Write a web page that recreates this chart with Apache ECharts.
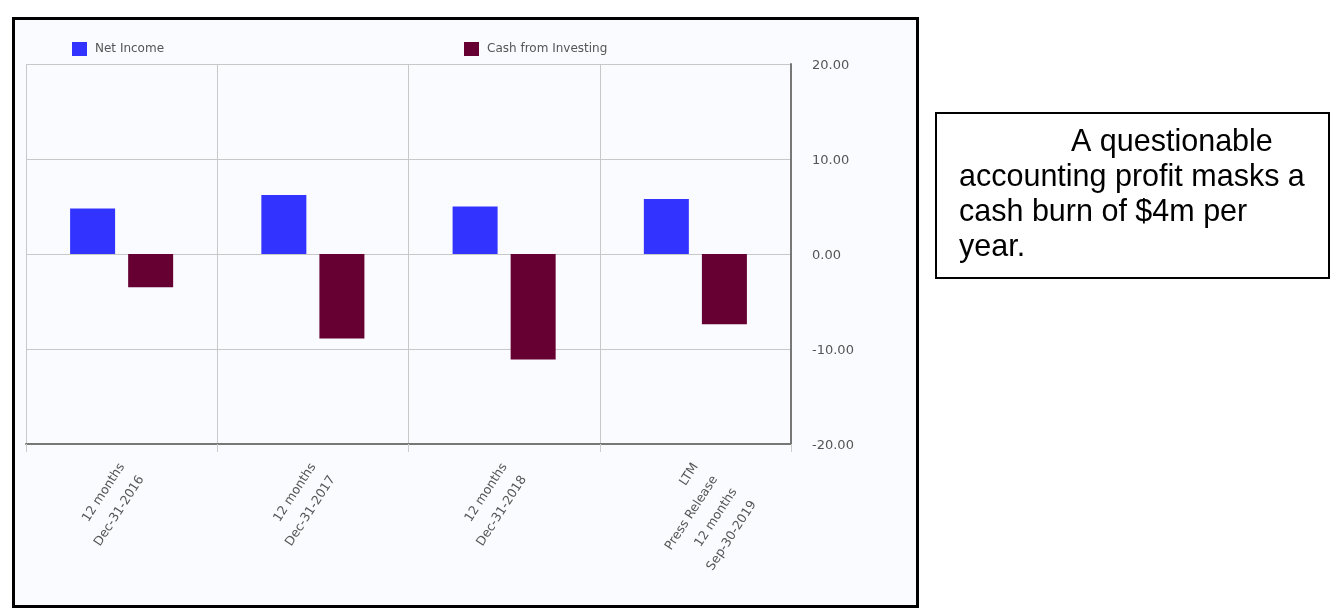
<!DOCTYPE html>
<html>
<head>
<meta charset="utf-8">
<script src="https://cdn.jsdelivr.net/npm/echarts@6/dist/echarts.min.js"></script>
<style>
html,body{margin:0;padding:0;background:#fff;}
#c{width:1338px;height:613px;}
</style>
</head>
<body>
<div id="c"></div>
<script>
var categories = ['12 months\nDec-31-2016', '12 months\nDec-31-2017', '12 months\nDec-31-2018', 'LTM\nPress Release\n12 months\nSep-30-2019'];
var netIncome = [4.8, 6.2, 5.0, 5.8];
var cashFromInvesting = [-3.5, -8.9, -11.1, -7.4];
var seriesNames = ['Net Income', 'Cash from Investing'];
var noteLines = ['A questionable', 'accounting profit masks a', 'cash burn of $4m per', 'year.'];

var chart = echarts.init(document.getElementById('c'));
var axisFont = 'DejaVu Sans';
var noteFont = '30.5px "Liberation Sans"';
chart.setOption({
  animation: false,
  graphic: [
    {type: 'rect', z: -10, shape: {x: 13.5, y: 18.5, width: 904, height: 588}, style: {fill: '#f9fbfe', stroke: '#000', lineWidth: 3}},
    {type: 'rect', z: -10, shape: {x: 936, y: 113, width: 393, height: 165}, style: {fill: '#fff', stroke: '#000', lineWidth: 2}},
    {type: 'text', x: 1071, y: 143, style: {text: noteLines[0], font: noteFont, fill: '#000', verticalAlign: 'middle'}},
    {type: 'text', x: 959, y: 178, style: {text: noteLines[1], font: noteFont, fill: '#000', verticalAlign: 'middle'}},
    {type: 'text', x: 959, y: 213, style: {text: noteLines[2], font: noteFont, fill: '#000', verticalAlign: 'middle'}},
    {type: 'text', x: 959, y: 248, style: {text: noteLines[3], font: noteFont, fill: '#000', verticalAlign: 'middle'}}
  ],
  legend: [
    {data: [seriesNames[0]], left: 67, top: 37, icon: 'rect', itemWidth: 15, itemHeight: 14, itemGap: 8,
     textStyle: {fontFamily: axisFont, fontSize: 12, color: '#555', padding: [0, 0, 0, 3]}},
    {data: [seriesNames[1]], left: 459, top: 37, icon: 'rect', itemWidth: 15, itemHeight: 14, itemGap: 8,
     textStyle: {fontFamily: axisFont, fontSize: 12, color: '#555', padding: [0, 0, 0, 3]}}
  ],
  grid: {left: 26, right: 547, top: 64, bottom: 169, containLabel: false},
  xAxis: {
    type: 'category',
    data: categories,
    boundaryGap: true,
    axisLine: {show: true, onZero: false, lineStyle: {color: '#777', width: 2}},
    axisTick: {show: true, length: 8, lineStyle: {color: '#ccc'}},
    splitLine: {show: true, lineStyle: {color: '#c8c8c8', width: 1}},
    axisLabel: {
      rotate: 57, margin: 0, interval: 0,
      align: 'right', verticalAlign: 'top', padding: [0, 17, 0, 0],
      fontFamily: axisFont, fontSize: 12.5, color: '#555', lineHeight: 23
    }
  },
  yAxis: {
    type: 'value',
    position: 'right',
    min: -20, max: 20, interval: 10,
    axisLine: {show: true, lineStyle: {color: '#777', width: 2}},
    axisTick: {show: false},
    splitLine: {show: true, lineStyle: {color: '#c8c8c8', width: 1}},
    axisLabel: {margin: 21, fontFamily: axisFont, fontSize: 13, color: '#555', verticalAlign: 'top', lineHeight: 4,
      formatter: function (v) { return v.toFixed(2); }}
  },
  series: [
    {name: seriesNames[0], type: 'bar', data: netIncome, barWidth: 45, barGap: '29%', itemStyle: {color: '#3333ff'}},
    {name: seriesNames[1], type: 'bar', data: cashFromInvesting, barWidth: 45, barGap: '29%', itemStyle: {color: '#660033'}}
  ]
});
</script>
</body>
</html>
